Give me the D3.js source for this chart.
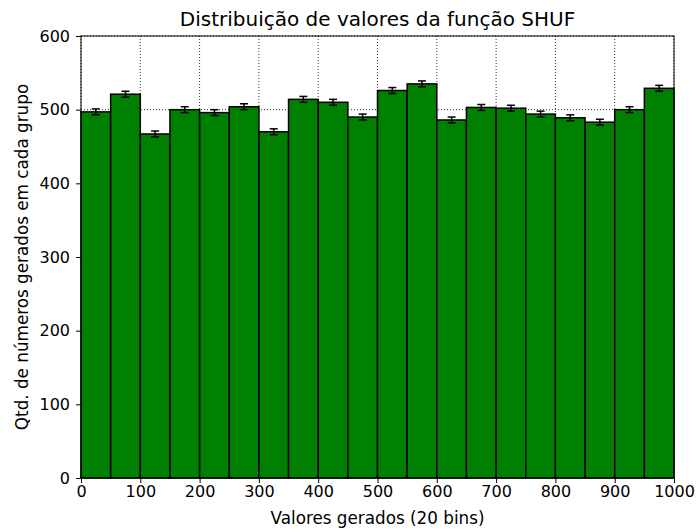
<!DOCTYPE html>
<html><head><meta charset="utf-8">
<script src="https://cdn.jsdelivr.net/npm/d3@7/dist/d3.min.js"></script>
<style>body{margin:0;background:#fff}svg{display:block}text{font-family:"DejaVu Sans",sans-serif;fill:#000}</style>
</head><body><svg id="c" width="697" height="532"></svg>
<script>
const binEdgesStart = [0,50,100,150,200,250,300,350,400,450,500,550,600,650,700,750,800,850,900,950];
const binWidth = 50;
const counts = [497,521,467,500,496,504,470,514,510,490,526,535,486,503,502,494,489,483,500,529];
const errors = [4,4,4,4,4,4,4,4,4,4,4,4,4,4,4,4,4,4,4,4];
const xTicks = [0,100,200,300,400,500,600,700,800,900,1000];
const yTicks = [0,100,200,300,400,500,600];
const title = "Distribuição de valores da função SHUF";
const xLabel = "Valores gerados (20 bins)";
const yLabel = "Qtd. de números gerados em cada grupo";

const svg = d3.select("#c");
const m = {l:81, r:674, t:36, b:478};
const x = d3.scaleLinear().domain([0,1000]).range([m.l,m.r]);
const y = d3.scaleLinear().domain([0,600]).range([m.b,m.t]);

// grid
const g = svg.append("g");
g.selectAll(".gx").data(xTicks).enter().append("line")
 .attr("x1",d=>x(d)).attr("x2",d=>x(d)).attr("y1",m.t).attr("y2",m.b)
 .attr("stroke","#000").attr("stroke-width",0.8).attr("stroke-dasharray","1,2");
g.selectAll(".gy").data(yTicks).enter().append("line")
 .attr("x1",m.l).attr("x2",m.r).attr("y1",d=>y(d)).attr("y2",d=>y(d))
 .attr("stroke","#000").attr("stroke-width",0.8).attr("stroke-dasharray","1,2");

// bars
svg.selectAll(".bar").data(counts).enter().append("rect")
 .attr("x",(d,i)=>x(binEdgesStart[i])).attr("width",(d,i)=>x(binEdgesStart[i]+binWidth)-x(binEdgesStart[i]))
 .attr("y",d=>y(d)).attr("height",d=>y(0)-y(d))
 .attr("fill","#008000").attr("stroke","#000").attr("stroke-width",1.5);

// error bars
const eb = svg.append("g").attr("stroke","#000").attr("stroke-width",1.5);
counts.forEach((c,i)=>{
  const cx = x(binEdgesStart[i]+binWidth/2);
  eb.append("line").attr("x1",cx).attr("x2",cx).attr("y1",y(c-errors[i])).attr("y2",y(c+errors[i]));
  eb.append("line").attr("x1",cx-4).attr("x2",cx+4).attr("y1",y(c-errors[i])).attr("y2",y(c-errors[i]));
  eb.append("line").attr("x1",cx-4).attr("x2",cx+4).attr("y1",y(c+errors[i])).attr("y2",y(c+errors[i]));
});

// frame
svg.append("rect").attr("x",m.l).attr("y",m.t).attr("width",m.r-m.l).attr("height",m.b-m.t)
 .attr("fill","none").attr("stroke","#000").attr("stroke-width",1);

// axes
const xa = svg.append("g").attr("transform",`translate(0,${m.b})`)
 .call(d3.axisBottom(x).tickValues(xTicks).tickSize(5).tickPadding(3).tickFormat(d3.format("d")));
const ya = svg.append("g").attr("transform",`translate(${m.l},0)`)
 .call(d3.axisLeft(y).tickValues(yTicks).tickSize(5).tickPadding(6).tickFormat(d3.format("d")));
[xa,ya].forEach(a=>{a.select(".domain").remove();a.selectAll("text").attr("font-size",16).attr("font-family","DejaVu Sans").attr("fill","#000");a.selectAll("line").attr("stroke","#000");});

svg.append("text").attr("x",(m.l+m.r)/2).attr("y",26).attr("text-anchor","middle").attr("font-size",20).text(title);
svg.append("text").attr("x",(m.l+m.r)/2).attr("y",524).attr("text-anchor","middle").attr("font-size",16.8).text(xLabel);
svg.append("text").attr("transform",`translate(28,${(m.t+m.b)/2}) rotate(-90)`).attr("text-anchor","middle").attr("font-size",16.8).text(yLabel);
</script></body></html>
